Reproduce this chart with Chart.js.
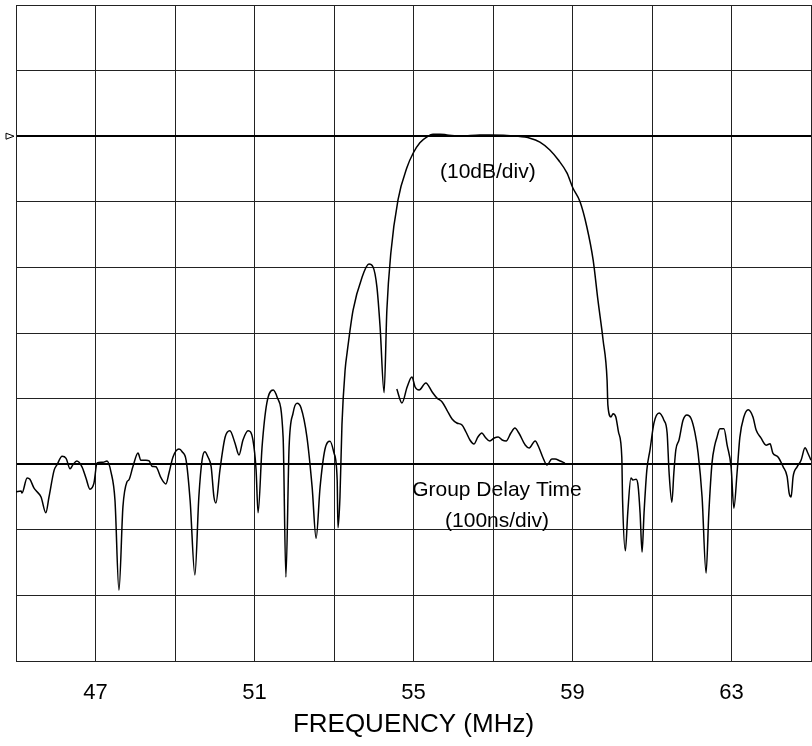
<!DOCTYPE html>
<html>
<head>
<meta charset="utf-8">
<script src="https://cdn.jsdelivr.net/npm/chart.js@4.4.1/dist/chart.umd.min.js"></script>
<style>
  html, body { margin: 0; padding: 0; background: #fff; overflow: hidden; }
  #wrap { width: 812px; height: 746px; }
  canvas { display: block; }
</style>
</head>
<body>
<div id="wrap"><canvas id="myChart" width="812" height="746"></canvas></div>
<script>
// frequency response, MHz / dB (0 dB = reference line)
const ampFreq = [
  45.00, 45.13, 45.15, 45.28, 45.35, 45.45, 45.53, 45.63, 45.75, 45.83,
  45.96, 46.03, 46.16, 46.26, 46.36, 46.43, 46.53, 46.66, 46.76, 46.86,
  46.96, 47.04, 47.14, 47.19, 47.29, 47.39, 47.49, 47.59, 47.69, 47.79,
  47.84, 47.94, 48.07, 48.14, 48.27, 48.35, 48.42, 48.52, 48.65, 48.77,
  48.85, 48.95, 49.10, 49.18, 49.28, 49.38, 49.50, 49.60, 49.68, 49.75,
  49.83, 49.91, 49.98, 50.03, 50.13, 50.26, 50.38, 50.51, 50.61, 50.71,
  50.84, 50.96, 51.04, 51.09, 51.19, 51.31, 51.47, 51.57, 51.72, 51.79,
  51.87, 51.97, 52.07, 52.17, 52.32, 52.45, 52.55, 52.65, 52.77, 52.90,
  53.00, 53.08, 53.10, 53.15, 53.20, 53.28, 53.33, 53.48, 53.70, 53.88,
  53.98, 54.08, 54.16, 54.26, 54.33, 54.43, 54.61, 54.84, 54.99, 55.16,
  55.34, 55.49, 55.67, 55.84, 56.20, 56.67, 56.92, 57.60, 57.93, 58.18,
  58.43, 58.64, 58.86, 59.01, 59.19, 59.36, 59.52, 59.64, 59.77, 59.87,
  59.89, 59.97, 60.02, 60.09, 60.16, 60.24, 60.26, 60.33, 60.39, 60.47,
  60.52, 60.60, 60.65, 60.70, 60.75, 60.80, 60.87, 60.95, 61.05, 61.18,
  61.30, 61.38, 61.43, 61.50, 61.55, 61.60, 61.68, 61.78, 61.88, 61.98,
  62.08, 62.16, 62.26, 62.36, 62.43, 62.51, 62.58, 62.63, 62.71, 62.81,
  62.89, 62.99, 63.06, 63.14, 63.21, 63.31, 63.42, 63.54, 63.62, 63.74,
  63.87, 63.97, 64.04, 64.17, 64.30, 64.40, 64.45, 64.50, 64.55, 64.65,
  64.75, 64.85, 64.92, 65.00
];
const ampDb = [
  -54.2, -54.1, -54.4, -52.1, -52.3, -53.6, -54.2, -55.0, -57.4, -55.0,
  -50.9, -50.1, -48.8, -49.1, -50.7, -50.1, -49.5, -50.4, -52.1, -53.8,
  -52.9, -49.8, -49.7, -49.7, -49.5, -51.2, -55.5, -69.2, -56.5, -52.7,
  -52.4, -50.4, -48.3, -49.4, -49.4, -49.5, -50.3, -50.4, -52.1, -53.0,
  -51.3, -48.9, -47.7, -48.1, -49.4, -55.5, -66.9, -55.0, -49.4, -48.1,
  -48.9, -50.4, -55.0, -55.9, -50.9, -45.9, -44.9, -46.8, -48.6, -46.3,
  -44.9, -46.3, -50.9, -57.4, -47.4, -40.7, -38.7, -39.8, -45.9, -67.2,
  -47.4, -42.2, -40.7, -41.4, -45.9, -53.5, -61.3, -53.5, -47.8, -46.5,
  -48.3, -52.4, -59.7, -55.0, -44.0, -35.6, -33.0, -26.5, -21.6, -19.5,
  -19.9, -23.0, -29.1, -39.1, -26.5, -17.8, -9.7, -4.7, -2.6, -1.0,
  -0.1, 0.3, 0.3, 0.2, 0.0, 0.2, 0.2, 0.0, -0.3, -0.9,
  -2.1, -3.6, -5.6, -7.9, -10.0, -13.8, -18.9, -25.0, -31.1, -37.2,
  -41.0, -42.8, -42.3, -42.8, -45.2, -48.9, -55.5, -63.2, -57.4, -52.1,
  -52.4, -52.3, -53.3, -57.4, -63.4, -57.4, -50.9, -47.8, -43.7, -42.2,
  -43.3, -45.2, -51.3, -55.8, -51.3, -47.8, -46.3, -43.3, -42.5, -43.0,
  -45.2, -48.3, -55.0, -66.6, -57.4, -49.8, -47.1, -46.0, -44.6, -44.6,
  -47.1, -50.4, -56.7, -51.3, -45.9, -42.8, -41.7, -42.8, -44.8, -46.0,
  -47.1, -46.9, -48.3, -48.9, -50.4, -51.9, -54.4, -55.0, -51.9, -50.4,
  -49.4, -47.5, -48.3, -49.4
];

// group delay, MHz / ns relative to its reference line
const gdFreq = [
  54.58, 54.71, 54.84, 54.96, 55.04, 55.14, 55.31, 55.47, 55.59, 55.72,
  55.84, 55.97, 56.09, 56.22, 56.32, 56.42, 56.52, 56.62, 56.72, 56.80,
  56.92, 57.03, 57.13, 57.23, 57.33, 57.45, 57.55, 57.65, 57.81, 57.91,
  58.06, 58.16, 58.26, 58.36, 58.48, 58.56, 58.69, 58.81
];
const gdNs = [
  114.6, 93.3, 117.7, 132.9, 117.7, 113.1, 123.8, 110.1, 100.9, 94.8,
  82.6, 68.9, 62.8, 59.8, 49.1, 36.9, 30.8, 41.5, 47.6, 41.5,
  35.4, 39.9, 41.5, 36.9, 35.4, 47.6, 55.2, 47.6, 29.3, 24.7,
  35.4, 24.7, 9.5, -1.2, 7.9, 7.9, 4.9, 1.8
];

const freqLabels = [47, 51, 55, 59, 63];

const toPoints = (xs, ys) => xs.map((x, i) => ({ x: x, y: ys[i] }));

const FONT = "'Liberation Sans', Arial, sans-serif";

// texts on the plot and the reference marker at the left edge
const notes = {
  id: "notes",
  afterDatasetsDraw(chart) {
    const ctx = chart.ctx;
    const xs = chart.scales.x;
    const ys = chart.scales.y;
    ctx.save();
    ctx.fillStyle = "#000";
    ctx.font = "21px " + FONT;
    ctx.textAlign = "center";
    ctx.textBaseline = "middle";
    ctx.fillText("(10dB/div)", xs.getPixelForValue(56.87), ys.getPixelForValue(-5.5));
    ctx.fillText("Group Delay Time", xs.getPixelForValue(57.1), ys.getPixelForValue(-53.9));
    ctx.fillText("(100ns/div)", xs.getPixelForValue(57.1), ys.getPixelForValue(-58.7));

    const ry = ys.getPixelForValue(0);
    const left = chart.chartArea.left;
    ctx.beginPath();
    ctx.moveTo(left - 10, ry - 3);
    ctx.lineTo(left - 2, ry);
    ctx.lineTo(left - 10, ry + 3);
    ctx.closePath();
    ctx.lineWidth = 1;
    ctx.strokeStyle = "#000";
    ctx.stroke();
    ctx.restore();
  },
};

const myChart = document.getElementById("myChart").getContext("2d");

new Chart(myChart, {
  type: "scatter",
  data: {
    datasets: [
      {
        label: "Amplitude",
        data: toPoints(ampFreq, ampDb),
        showLine: true,
        borderColor: "#000",
        borderWidth: 1.5,
        pointRadius: 0,
        cubicInterpolationMode: "monotone",
        yAxisID: "y",
      },
      {
        label: "Group Delay",
        data: toPoints(gdFreq, gdNs),
        showLine: true,
        borderColor: "#000",
        borderWidth: 1.5,
        pointRadius: 0,
        cubicInterpolationMode: "monotone",
        yAxisID: "yd",
      },
    ],
  },
  options: {
    responsive: false,
    animation: false,
    layout: { padding: { left: 16, right: 1, top: 5, bottom: 0 } },
    plugins: {
      legend: { display: false },
      tooltip: { enabled: false },
    },
    scales: {
      x: {
        type: "linear",
        min: 45,
        max: 65,
        ticks: {
          stepSize: 2,
          autoSkip: false,
          maxRotation: 0,
          padding: 0,
          color: "#000",
          font: { size: 22, family: FONT, lineHeight: "64px" },
          callback: (v) => (freqLabels.includes(v) ? String(v) : ""),
        },
        grid: { color: "#222", lineWidth: 1, drawTicks: false },
        border: { color: "#222", width: 1 },
        title: {
          display: true,
          text: "FREQUENCY (MHz)",
          color: "#000",
          font: { size: 26, family: FONT, lineHeight: "31px" },
          padding: { top: -16, bottom: 6 },
        },
      },
      y: {
        min: -80,
        max: 20,
        ticks: { stepSize: 10, display: false },
        grid: {
          drawTicks: false,
          color: (c) => (c.tick.value === 0 || c.tick.value === -50 ? "#000" : "#222"),
          lineWidth: (c) => (c.tick.value === 0 || c.tick.value === -50 ? 2 : 1),
        },
        border: { color: "#222", width: 1 },
      },
      yd: {
        display: false,
        min: -300,
        max: 700,
      },
    },
  },
  plugins: [notes],
});
</script>
</body>
</html>
